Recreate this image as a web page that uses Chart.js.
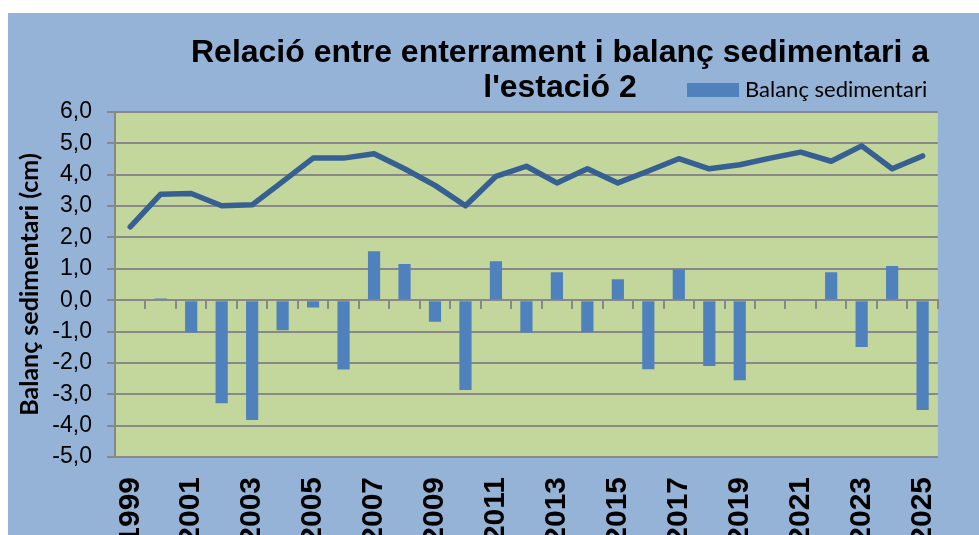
<!DOCTYPE html>
<html>
<head>
<meta charset="utf-8">
<script src="https://cdn.jsdelivr.net/npm/chart.js@4/dist/chart.umd.min.js"></script>
<style>
  html, body { margin: 0; padding: 0; background: #fff; }
  #wrap {
    position: absolute; left: 8px; top: 13px;
    width: 971px; height: 522px;
    background: #95B3D7;
  }
</style>
</head>
<body>
<div id="wrap"><canvas id="chart"></canvas></div>
<script>
const years = ['1999','2000','2001','2002','2003','2004','2005','2006','2007','2008',
  '2009','2010','2011','2012','2013','2014','2015','2016','2017','2018',
  '2019','2020','2021','2022','2023','2024','2025'];

// enterrament (line)
const enterrament = [2.34, 3.38, 3.40, 3.01, 3.04, 3.78, 4.53, 4.53, 4.67, 4.19,
  3.66, 3.01, 3.95, 4.27, 3.74, 4.19, 3.74, 4.12, 4.51, 4.19,
  4.32, 4.53, 4.72, 4.43, 4.92, 4.19, 4.60];

// balanç sedimentari (bars)
const balanc = [0, 0.05, -1.03, -3.29, -3.82, -0.96, -0.23, -2.21, 1.56, 1.15,
  -0.69, -2.86, 1.24, -1.03, 0.89, -1.02, 0.67, -2.20, 0.99, -2.10,
  -2.55, 0, 0, 0.89, -1.49, 1.09, -3.50];

const yTicks = [-5, -4, -3, -2, -1, 0, 1, 2, 3, 4, 5, 6];

const titleLines = ['Relació entre enterrament i balanç sedimentari a', "l'estació 2"];

const gray = '#888888';

// green plot area
const plotBg = {
  id: 'plotBg',
  beforeDraw(chart) {
    const { ctx, chartArea: a } = chart;
    ctx.save();
    ctx.fillStyle = '#C3D69B';
    ctx.fillRect(a.left, a.top, a.right - a.left, a.bottom - a.top);
    ctx.restore();
  }
};

// title + legend drawn on top of the canvas
const header = {
  id: 'header',
  afterDraw(chart) {
    const ctx = chart.ctx;
    ctx.save();
    ctx.fillStyle = '#000';
    ctx.textAlign = 'center';
    ctx.textBaseline = 'alphabetic';
    ctx.font = 'bold 32px "Liberation Sans", Arial, sans-serif';
    ctx.fillText(titleLines[0], 552, 49);
    ctx.fillText(titleLines[1], 552, 84);

    const ds = chart.data.datasets.find(d => d.type === 'bar');
    ctx.fillStyle = ds.backgroundColor;
    ctx.fillRect(679, 70, 52, 14);
    ctx.fillStyle = '#000';
    ctx.textAlign = 'left';
    ctx.font = '22px Lato, "Liberation Sans", sans-serif';
    ctx.fillText(ds.label, 737, 84);
    ctx.restore();
  }
};

new Chart(document.getElementById('chart'), {
  data: {
    labels: years,
    datasets: [
      {
        type: 'line',
        label: 'Enterrament',
        data: enterrament,
        borderColor: '#366092',
        borderWidth: 5.5,
        borderCapStyle: 'round',
        borderJoinStyle: 'round',
        pointRadius: 0,
        tension: 0,
        order: 0
      },
      {
        type: 'bar',
        label: 'Balanç sedimentari',
        data: balanc,
        backgroundColor: '#4F81BD',
        barPercentage: 0.4,
        categoryPercentage: 1,
        order: 1
      }
    ]
  },
  options: {
    responsive: true,
    maintainAspectRatio: false,
    animation: false,
    layout: { padding: { top: 99, right: 21, left: 0, bottom: 0 } },
    plugins: {
      legend: { display: false },
      title: { display: false },
      tooltip: { enabled: false }
    },
    scales: {
      x: {
        type: 'category',
        position: { y: 0 },
        offset: true,
        grid: {
          offset: true,
          drawOnChartArea: false,
          drawTicks: true,
          tickLength: 8,
          color: gray,
          lineWidth: 2
        },
        border: { display: true, color: gray, width: 2 },
        ticks: { display: false }
      },
      x2: {
        type: 'category',
        position: 'bottom',
        offset: true,
        grid: { display: false, drawTicks: false },
        border: { display: false },
        ticks: {
          autoSkip: false,
          minRotation: 90,
          maxRotation: 90,
          padding: 20,
          color: '#000',
          font: { family: '"Liberation Sans", Arial, sans-serif', size: 30, weight: 'bold' },
          callback: (v, i) => i % 2 === 0 ? years[i] : ''
        },
        afterFit: s => { s.height = 78; }
      },
      y: {
        min: -5,
        max: 6,
        afterBuildTicks: s => { s.ticks = yTicks.map(v => ({ value: v })); },
        grid: { color: gray, lineWidth: 2, tickLength: 8 },
        border: { color: gray, width: 2 },
        ticks: {
          padding: 15,
          color: '#000',
          font: { family: '"Liberation Sans", Arial, sans-serif', size: 23 },
          callback: v => v.toFixed(1).replace('.', ',')
        },
        title: {
          display: true,
          text: 'Balanç sedimentari (cm)',
          color: '#000',
          padding: { top: 7, bottom: 0 },
          font: { family: 'Lato, "Liberation Sans", sans-serif', size: 25, weight: 'bold' }
        },
        afterFit: s => { s.width = 107; }
      }
    }
  },
  plugins: [plotBg, header]
});
</script>
</body>
</html>
